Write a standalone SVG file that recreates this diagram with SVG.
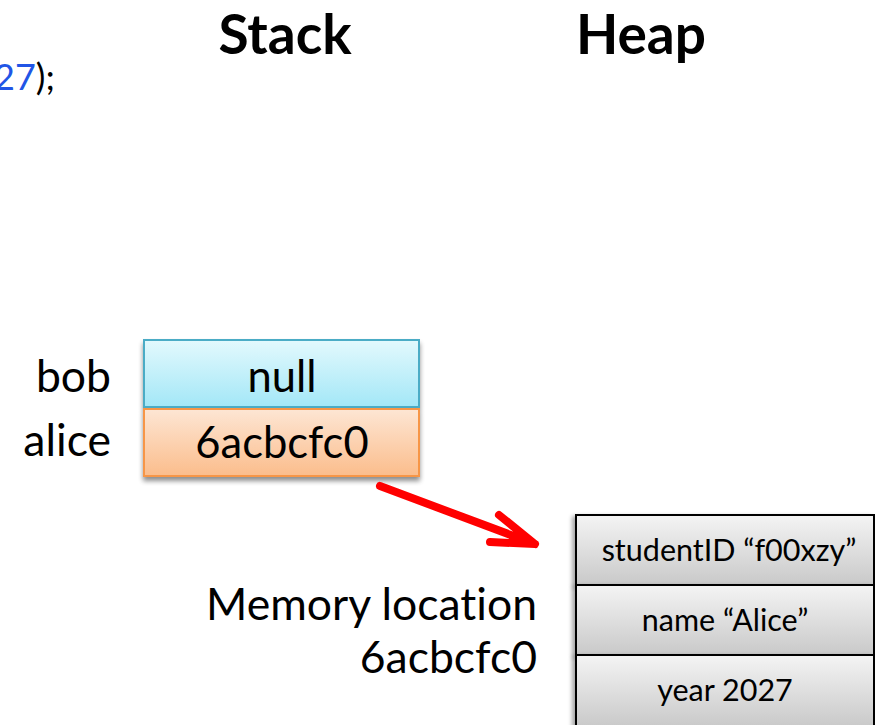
<svg xmlns="http://www.w3.org/2000/svg" width="875" height="725" viewBox="0 0 875 725">
<defs>
<linearGradient id="gBlue" x1="0" y1="0" x2="0" y2="1"><stop offset="0" stop-color="#e3f9fd"/><stop offset="1" stop-color="#a3e7f7"/></linearGradient>
<linearGradient id="gOrange" x1="0" y1="0" x2="0" y2="1"><stop offset="0" stop-color="#fde6d4"/><stop offset="1" stop-color="#fbbd8c"/></linearGradient>
<linearGradient id="gGray" x1="0" y1="0" x2="0" y2="1"><stop offset="0" stop-color="#f4f4f4"/><stop offset="1" stop-color="#c9c9c9"/></linearGradient>
<filter id="shadow" x="-10%" y="-10%" width="120%" height="130%"><feGaussianBlur in="SourceAlpha" stdDeviation="2.5"/><feOffset dx="0" dy="4"/><feComponentTransfer><feFuncA type="linear" slope="0.45"/></feComponentTransfer><feMerge><feMergeNode/><feMergeNode in="SourceGraphic"/></feMerge></filter>
<filter id="shadowL" x="-10%" y="-10%" width="120%" height="120%"><feGaussianBlur in="SourceAlpha" stdDeviation="2"/><feOffset dx="-3" dy="2"/><feComponentTransfer><feFuncA type="linear" slope="0.35"/></feComponentTransfer><feMerge><feMergeNode/><feMergeNode in="SourceGraphic"/></feMerge></filter>
</defs>
<style>
text{font-family:Lato,"Liberation Sans",sans-serif;fill:#000;font-variant-ligatures:none}
.title{font-size:55px;font-weight:bold;text-anchor:middle}
.lbl{font-size:44.5px;text-anchor:end}
.val{font-size:43.5px;text-anchor:middle}
.fld{font-size:30.5px;text-anchor:middle}
.code{font-size:36px}
.arrow{fill:none;stroke:#ff0000;stroke-width:8;stroke-linecap:round;stroke-linejoin:round}
</style>
<text class="code" x="-6" y="90"><tspan style="fill:#2155e6">27</tspan>);</text>
<text class="title" x="285" y="54">Stack</text>
<text class="title" x="641" y="54">Heap</text>
<g id="bob">
<text class="lbl" x="111" y="392">bob</text>
<rect x="144" y="340" width="275" height="67" fill="url(#gBlue)" stroke="#4bacc6" stroke-width="2" filter="url(#shadow)"/>
<text class="val" x="282" y="392">null</text>
</g>
<g id="alice">
<text class="lbl" x="111" y="456">alice</text>
<rect x="144" y="409" width="275" height="67" fill="url(#gOrange)" stroke="#f79646" stroke-width="2" filter="url(#shadow)"/>
<text class="val" x="282" y="458">6acbcfc0</text>
</g>
<g id="memlabel">
<text class="lbl" x="537" y="620">Memory location</text>
<text class="lbl" x="537" y="673">6acbcfc0</text>
</g>
<g id="heap-object">
<rect x="576" y="515" width="298" height="70" fill="url(#gGray)" stroke="#000" stroke-width="2" filter="url(#shadowL)"/>
<rect x="576" y="585" width="298" height="70" fill="url(#gGray)" stroke="#000" stroke-width="2" filter="url(#shadowL)"/>
<rect x="576" y="655" width="298" height="72" fill="url(#gGray)" stroke="#000" stroke-width="2" filter="url(#shadowL)"/>
<text class="fld" x="729" y="561">studentID “f00xzy”</text>
<text class="fld" x="725" y="631">name “Alice”</text>
<text class="fld" x="725" y="701">year 2027</text>
</g>
<g id="connectors">
<path class="arrow" d="M380,486 L535,544 M499,515 L535,544 L490,542"/>
</g>
</svg>
